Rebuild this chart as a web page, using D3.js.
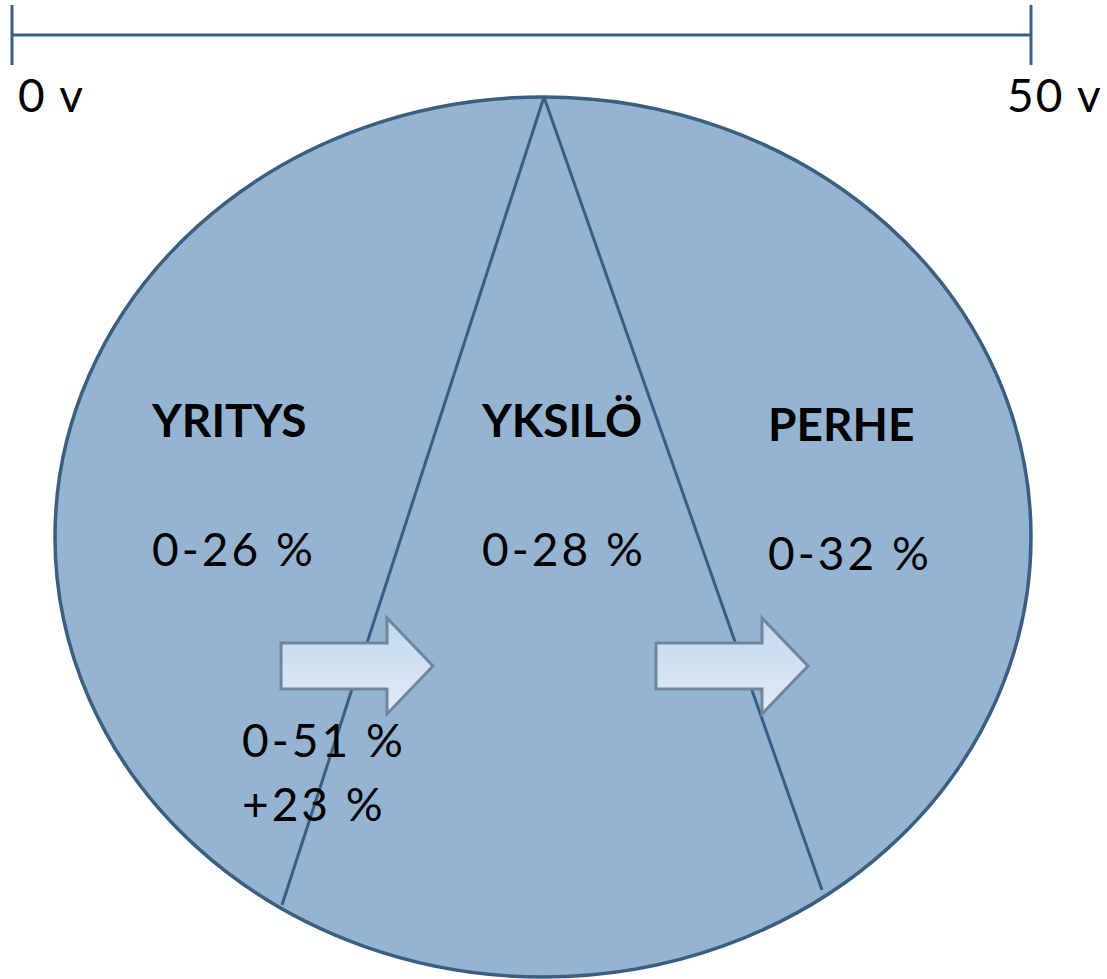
<!DOCTYPE html>
<html>
<head>
<meta charset="utf-8">
<script src="https://cdn.jsdelivr.net/npm/d3@7"></script>
<style>
body { margin: 0; background: #fff; }
svg text { font-family: Lato, "Open Sans", sans-serif; fill: #000; }
</style>
</head>
<body>
<svg id="chart" width="1107" height="979"></svg>
<script>
// timeline ends (years)
var timeTicks = [0, 50];
var timeLabels = ["0 v", "50 v"];

// segments of the ellipse
var segments = ["YRITYS", "YKSILÖ", "PERHE"];
var segmentValues = ["0-26 %", "0-28 %", "0-32 %"];

// transition between company and individual
var transferValues = ["0-51 %", "+23 %"];

var LINE = "#3b5f82";
var FILL = "#95b4d2";

var svg = d3.select("#chart");

var defs = svg.append("defs");
var grad = defs.append("linearGradient")
	.attr("id", "arrowGrad")
	.attr("x1", 0).attr("y1", 0).attr("x2", 0).attr("y2", 1);
grad.append("stop").attr("offset", "0%").attr("stop-color", "#c3d7ed");
grad.append("stop").attr("offset", "100%").attr("stop-color", "#e2ebf6");

/**
 * Timeline at the top.
 */
var x = d3.scaleLinear().domain([0, 50]).range([12, 1031]);
var lineY = 35;

svg.append("path")
	.attr("d", "M" + x(0) + "," + lineY + " L" + x(50) + "," + lineY)
	.attr("stroke", LINE)
	.attr("stroke-width", 3);

svg.selectAll(".tick").data(timeTicks).enter().append("path")
	.attr("class", "tick")
	.attr("d", function(d) { return "M" + x(d) + ",5 L" + x(d) + ",65"; })
	.attr("stroke", LINE)
	.attr("stroke-width", 3);

svg.selectAll(".tlabel").data(timeTicks).enter().append("text")
	.attr("class", "tlabel")
	.attr("x", function(d, i) { return i === 0 ? x(d) + 6 : x(d) - 24; })
	.attr("y", 112)
	.style("font-size", "46px")
	.style("letter-spacing", "2px")
	.text(function(d, i) { return timeLabels[i]; });

/**
 * Ellipse split into three parts.
 */
var cx = 543, cy = 537, rx = 488, ry = 440;

svg.append("ellipse")
	.attr("cx", cx).attr("cy", cy)
	.attr("rx", rx).attr("ry", ry)
	.attr("fill", FILL)
	.attr("stroke", LINE)
	.attr("stroke-width", 3.5);

var apex = [544, 97];
var splitEnds = [[282, 905], [822, 890]];

svg.selectAll(".split").data(splitEnds).enter().append("path")
	.attr("class", "split")
	.attr("d", function(d) { return "M" + apex[0] + "," + apex[1] + " L" + d[0] + "," + d[1]; })
	.attr("stroke", LINE)
	.attr("stroke-width", 3)
	.attr("fill", "none");

/**
 * Block arrows showing the transfer.
 */
var arrowStarts = [281, 656];
function arrowPath(x0) {
	var top = 643, bottom = 689, mid = 666;
	var base = x0 + 106, tip = x0 + 152;
	return "M" + x0 + "," + top +
		" L" + base + "," + top +
		" L" + base + "," + 618 +
		" L" + tip + "," + mid +
		" L" + base + "," + 714 +
		" L" + base + "," + bottom +
		" L" + x0 + "," + bottom + " Z";
}

svg.selectAll(".arrow").data(arrowStarts).enter().append("path")
	.attr("class", "arrow")
	.attr("d", arrowPath)
	.attr("fill", "url(#arrowGrad)")
	.attr("stroke", "#6e879d")
	.attr("stroke-width", 3)
	.attr("stroke-linejoin", "miter");

/**
 * Labels.
 */
var labelX = [152, 482, 768];
var titleY = [437, 437, 441];
var valueY = [566, 566, 570];

svg.selectAll(".title").data(segments).enter().append("text")
	.attr("class", "title")
	.attr("x", function(d, i) { return labelX[i]; })
	.attr("y", function(d, i) { return titleY[i]; })
	.style("font-size", "46px")
	.style("font-weight", "bold")
	.text(function(d) { return d; });

svg.selectAll(".value").data(segmentValues).enter().append("text")
	.attr("class", "value")
	.attr("x", function(d, i) { return labelX[i]; })
	.attr("y", function(d, i) { return valueY[i]; })
	.style("font-size", "46px")
	.style("letter-spacing", "3px")
	.text(function(d) { return d; });

var transferY = [757, 821];
svg.selectAll(".transfer").data(transferValues).enter().append("text")
	.attr("class", "transfer")
	.attr("x", 242)
	.attr("y", function(d, i) { return transferY[i]; })
	.style("font-size", "46px")
	.style("letter-spacing", "3px")
	.text(function(d) { return d; });
</script>
</body>
</html>
